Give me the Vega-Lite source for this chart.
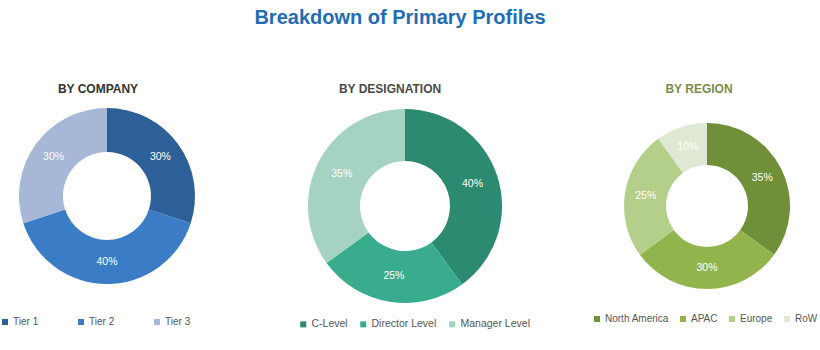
{
  "$schema": "https://vega.github.io/schema/vega-lite/v6.json",
  "padding": {"top": 8, "left": 0, "right": 0, "bottom": 0},
  "background": "white",
  "title": {
    "text": "Breakdown of Primary Profiles",
    "anchor": "middle",
    "font": "Liberation Sans",
    "fontSize": 20,
    "fontWeight": "bold",
    "color": "#1f6db5",
    "offset": 55,
    "dx": -9
  },
  "data": {
    "values": [
      {"group": "company", "category": "Tier 1", "share": 0.30, "i": 1},
      {"group": "company", "category": "Tier 2", "share": 0.40, "i": 2},
      {"group": "company", "category": "Tier 3", "share": 0.30, "i": 3},
      {"group": "designation", "category": "C-Level", "share": 0.40, "i": 1},
      {"group": "designation", "category": "Director Level", "share": 0.25, "i": 2},
      {"group": "designation", "category": "Manager Level", "share": 0.35, "i": 3},
      {"group": "region", "category": "North America", "share": 0.35, "i": 1},
      {"group": "region", "category": "APAC", "share": 0.30, "i": 2},
      {"group": "region", "category": "Europe", "share": 0.25, "i": 3},
      {"group": "region", "category": "RoW", "share": 0.10, "i": 4}
    ]
  },
  "spacing": 84,
  "bounds": "flush",
  "resolve": {"scale": {"color": "independent"}, "legend": {"color": "independent"}},
  "hconcat": [
    {
      "width": 214,
      "height": 180,
      "title": {"text": "BY COMPANY", "color": "#333333", "font": "Liberation Sans", "fontSize": 12, "fontWeight": "bold", "offset": 10, "dx": -9},
      "transform": [{"filter": "datum.group === 'company'"}],
      "encoding": {
        "theta": {"field": "share", "type": "quantitative", "stack": true},
        "order": {"field": "i", "type": "quantitative"}
      },
      "layer": [
        {
          "mark": {"type": "arc", "outerRadius": 88, "innerRadius": 44},
          "encoding": {
            "color": {
              "field": "category", "type": "nominal",
              "scale": {"domain": ["Tier 1", "Tier 2", "Tier 3"], "range": ["#2d5f98", "#3b7cc7", "#a6b7d8"]},
              "legend": {"orient": "none", "legendX": 0, "legendY": 211, "direction": "horizontal", "title": null, "columnPadding": 37}
            }
          }
        },
        {
          "mark": {"type": "text", "radius": 66, "color": "white", "fontSize": 10.5, "font": "Liberation Sans"},
          "encoding": {
            "text": {"field": "share", "type": "quantitative", "format": ".0%"},
            "detail": {"field": "category", "type": "nominal"}
          }
        }
      ]
    },
    {
      "width": 214,
      "height": 200,
      "title": {"text": "BY DESIGNATION", "color": "#4a4a4a", "font": "Liberation Sans", "fontSize": 12, "fontWeight": "bold", "offset": 10, "dx": -15},
      "transform": [{"filter": "datum.group === 'designation'"}],
      "encoding": {
        "theta": {"field": "share", "type": "quantitative", "stack": true},
        "order": {"field": "i", "type": "quantitative"}
      },
      "layer": [
        {
          "mark": {"type": "arc", "outerRadius": 97, "innerRadius": 45},
          "encoding": {
            "color": {
              "field": "category", "type": "nominal",
              "scale": {"domain": ["C-Level", "Director Level", "Manager Level"], "range": ["#2b8a70", "#39ac8d", "#a5d3c3"]},
              "legend": {"orient": "none", "legendX": 0, "legendY": 213, "direction": "horizontal", "title": null, "columnPadding": 10, "labelFontSize": 10.5}
            }
          }
        },
        {
          "mark": {"type": "text", "radius": 71, "color": "white", "fontSize": 10.5, "font": "Liberation Sans"},
          "encoding": {
            "text": {"field": "share", "type": "quantitative", "format": ".0%"},
            "detail": {"field": "category", "type": "nominal"}
          }
        }
      ]
    },
    {
      "width": 222,
      "height": 200,
      "title": {"text": "BY REGION", "color": "#7b8c4b", "font": "Liberation Sans", "fontSize": 12, "fontWeight": "bold", "offset": 10, "dx": -8},
      "transform": [{"filter": "datum.group === 'region'"}],
      "encoding": {
        "theta": {"field": "share", "type": "quantitative", "stack": true},
        "order": {"field": "i", "type": "quantitative"}
      },
      "layer": [
        {
          "mark": {"type": "arc", "outerRadius": 83, "innerRadius": 41},
          "encoding": {
            "color": {
              "field": "category", "type": "nominal",
              "scale": {"domain": ["North America", "APAC", "Europe", "RoW"], "range": ["#6f8f39", "#91b54c", "#b4cf8a", "#dfe8d2"]},
              "legend": {"orient": "none", "legendX": -4, "legendY": 208, "direction": "horizontal", "title": null, "columnPadding": 9}
            }
          }
        },
        {
          "mark": {"type": "text", "radius": 62, "color": "white", "fontSize": 10.5, "font": "Liberation Sans"},
          "encoding": {
            "text": {"field": "share", "type": "quantitative", "format": ".0%"},
            "detail": {"field": "category", "type": "nominal"}
          }
        }
      ]
    }
  ],
  "config": {
    "view": {"stroke": null},
    "legend": {
      "symbolType": "square",
      "symbolSize": 36,
      "symbolStrokeWidth": 0,
      "labelFont": "Liberation Sans",
      "labelFontSize": 10,
      "labelColor": "#555555",
      "labelOffset": 3
    }
  }
}
